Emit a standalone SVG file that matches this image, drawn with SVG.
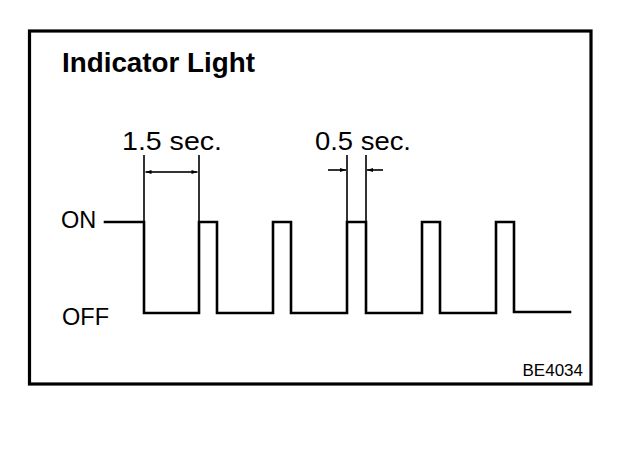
<svg xmlns="http://www.w3.org/2000/svg" width="624" height="458" viewBox="0 0 624 458">
<style>
text{font-family:"Liberation Sans",Arial,sans-serif;fill:#000}
.title{font-size:27.8px;font-weight:bold}
.lbl{font-size:23.5px}
.dim{font-size:25.5px}
.code{font-size:17px}
.ln{fill:none;stroke:#000;stroke-width:2.6;stroke-linejoin:miter;stroke-linecap:square}
.thin{fill:none;stroke:#000;stroke-width:1.6}
</style>
<defs>
<marker id="ah" viewBox="0 0 10 10" refX="10" refY="5" markerWidth="9" markerHeight="6" markerUnits="userSpaceOnUse" orient="auto">
<path d="M0,1.5 L10,5 L0,8.5 Z" fill="#000"/>
</marker>
</defs>
<rect x="0" y="0" width="624" height="458" fill="#fff"/>
<g id="frame">
<rect x="29.5" y="31" width="561.5" height="353" fill="none" stroke="#000" stroke-width="3.2"/>
</g>
<g id="title"><text class="title" x="62" y="72">Indicator Light</text></g>
<g id="label-on"><text class="lbl" x="61" y="228">ON</text></g>
<g id="label-off"><text class="lbl" x="62" y="325">OFF</text></g>
<g id="label-15"><text class="dim" x="122" y="150" textLength="100" lengthAdjust="spacingAndGlyphs">1.5 sec.</text></g>
<g id="label-05"><text class="dim" x="315" y="150" textLength="96" lengthAdjust="spacingAndGlyphs">0.5 sec.</text></g>
<g id="code"><text class="code" x="583" y="376" text-anchor="end">BE4034</text></g>
<g id="connectors">
<path class="ln" d="M105,222 H144 V313 H199 V222 H217 V313 H273 V222 H291 V313 H347 V222 H366 V313 H422 V222 H440 V313 H496 V222 H514 V312 H570"/>
<path class="thin" d="M144,155 V222 M199,155 V222 M347,155 V222 M366,155 V222"/>
<path class="thin" d="M171,172 H145.5" marker-end="url(#ah)"/>
<path class="thin" d="M171,172 H197.5" marker-end="url(#ah)"/>
<path class="thin" d="M328,170 H346" marker-end="url(#ah)"/>
<path class="thin" d="M383,170 H367" marker-end="url(#ah)"/>
</g>
</svg>
